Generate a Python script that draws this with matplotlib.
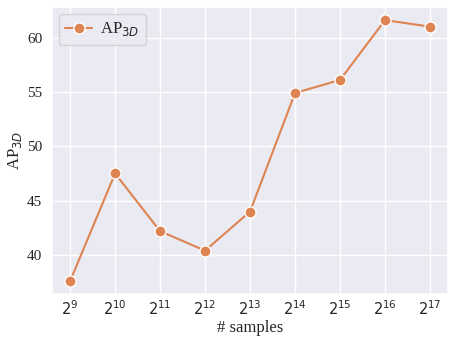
import numpy as np
import matplotlib
matplotlib.use('Agg')
import matplotlib.pyplot as plt
import seaborn as sns

# data
exponents = [9, 10, 11, 12, 13, 14, 15, 16, 17]
ap_3d = [37.6, 47.5, 42.2, 40.4, 44.0, 54.9, 56.1, 61.6, 61.0]
tick_labels = ['$2^{%d}$' % e for e in exponents]

sns.set_theme(style='darkgrid')
plt.rcParams['font.family'] = ['Liberation Serif', 'DejaVu Serif']

fig = plt.figure(figsize=(4.53, 3.37), dpi=100)
ax = fig.add_axes([0.115, 0.127, 0.874, 0.852])

ax.plot(exponents, ap_3d, color='#dd8452', lw=1.5, marker='o', ms=8,
        mec='white', mew=1, label='AP$_{3D}$')

ax.set_xticks(exponents)
ax.set_xticklabels(tick_labels, fontsize=10.5)
ax.set_yticks([40, 45, 50, 55, 60])
ax.tick_params(axis='y', labelsize=11, length=0, pad=7)
ax.tick_params(axis='x', length=0, pad=3.5)
ax.set_xlabel('# samples', fontsize=12, labelpad=1.5)
ax.set_ylabel('AP$_{3D}$', fontsize=12, labelpad=2)
ax.legend(loc='upper left', fontsize=12, handlelength=1.6, handletextpad=0.5,
          borderaxespad=0.4)

fig.savefig('out.png', dpi=100)
